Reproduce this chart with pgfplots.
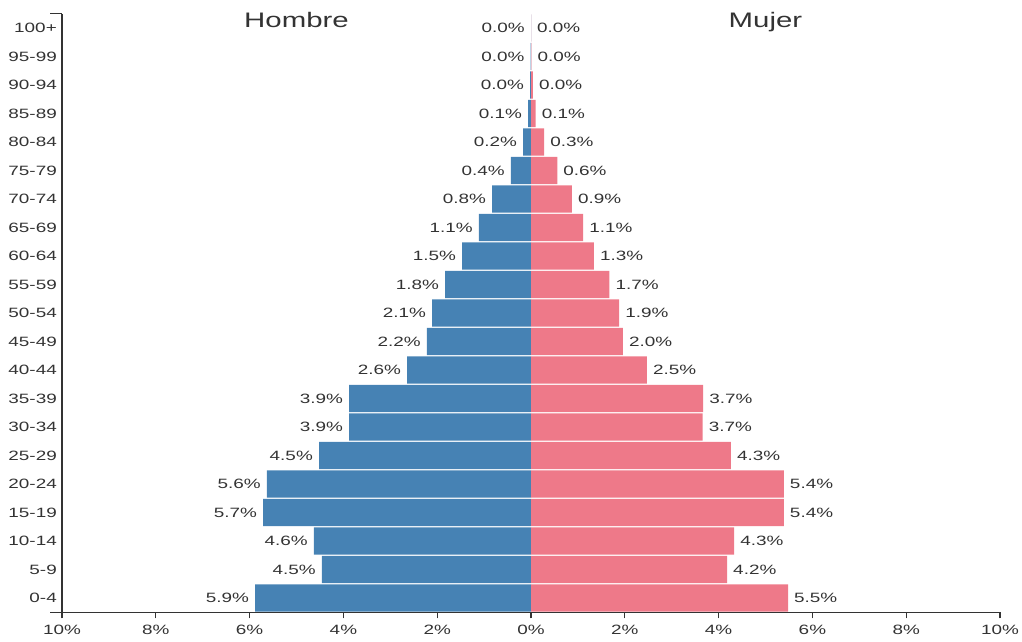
\documentclass[border=0pt]{standalone}
\usepackage{pgfplots}
\pgfplotsset{compat=1.18}
\usepackage{pgfplotstable}
\usepackage{fontspec}
\setmainfont{Liberation Sans}[FakeStretch=1.4]
\definecolor{male}{HTML}{4682B4}
\definecolor{female}{HTML}{EE7989}
\definecolor{axc}{HTML}{333333}
\pgfplotstableread{
idx m f
0 5.88 5.48
1 4.46 4.18
2 4.63 4.33
3 5.71 5.39
4 5.63 5.39
5 4.52 4.26
6 3.88 3.66
7 3.88 3.67
8 2.64 2.47
9 2.22 1.96
10 2.11 1.88
11 1.83 1.67
12 1.47 1.34
13 1.11 1.11
14 0.83 0.87
15 0.43 0.56
16 0.17 0.28
17 0.06 0.10
18 0.02 0.04
19 0.01 0.01
20 0.00 0.00
}\pyr
\begin{document}
\begin{tikzpicture}
\begin{axis}[
  scale only axis,
  width=938bp, height=598.5bp,
  xmin=-10, xmax=10,
  ymin=-0.5, ymax=20.5,
  xbar, bar width=27.3bp, bar shift=0pt,
  axis x line=bottom, axis y line=left,
  axis line style={-, axc, line width=1.3bp},
  xtick={-10,-8,...,10},
  xticklabels={10\%,8\%,6\%,4\%,2\%,0\%,2\%,4\%,6\%,8\%,10\%},
  ytick={0,...,20},
  yticklabels={0-4,5-9,10-14,15-19,20-24,25-29,30-34,35-39,40-44,45-49,50-54,55-59,60-64,65-69,70-74,75-79,80-84,85-89,90-94,95-99,100+},
  tick align=outside,
  major tick length=6bp,
  xtick style={axc, line width=1.3bp},
  ytick style={draw=none},
  ticklabel style={font=\fontsize{13.5bp}{15bp}\selectfont, text=axc, inner sep=0pt},
  xticklabel style={yshift=-7bp},
  yticklabel style={xshift=1bp},
  /pgf/number format/assume math mode=true,
  point meta=explicit,
  nodes near coords={\pgfmathprintnumber[fixed,fixed zerofill,precision=1]{\pgfplotspointmeta}\%},
  every node near coord/.append style={font=\fontsize{13.5bp}{15bp}\selectfont, text=axc, inner sep=0pt},
  clip=false,
]
\addplot[fill=male, draw=none, every node near coord/.append style={anchor=east, xshift=-6bp}]
  table[x expr=-\thisrow{m}, y=idx, meta=m] {\pyr};
\addplot[fill=female, draw=none, every node near coord/.append style={anchor=west, xshift=6bp}]
  table[x=f, y=idx, meta=f] {\pyr};
\draw[axc, line width=1.3bp] (rel axis cs:0,1) -- ([xshift=-12bp]rel axis cs:0,1);
\draw[axc, line width=1.3bp] (rel axis cs:0,0) -- ([xshift=-12bp]rel axis cs:0,0);
\node[anchor=base, font=\fontsize{21bp}{24bp}\selectfont, text=axc, inner sep=0pt] at (axis cs:-5,20.02) {Hombre};
\node[anchor=base, font=\fontsize{21bp}{24bp}\selectfont, text=axc, inner sep=0pt] at (axis cs:5,20.02) {Mujer};
\end{axis}
\pgfresetboundingbox
\path[use as bounding box] (-62bp,-29.75bp) rectangle (960bp,612.25bp);
\end{tikzpicture}
\end{document}
